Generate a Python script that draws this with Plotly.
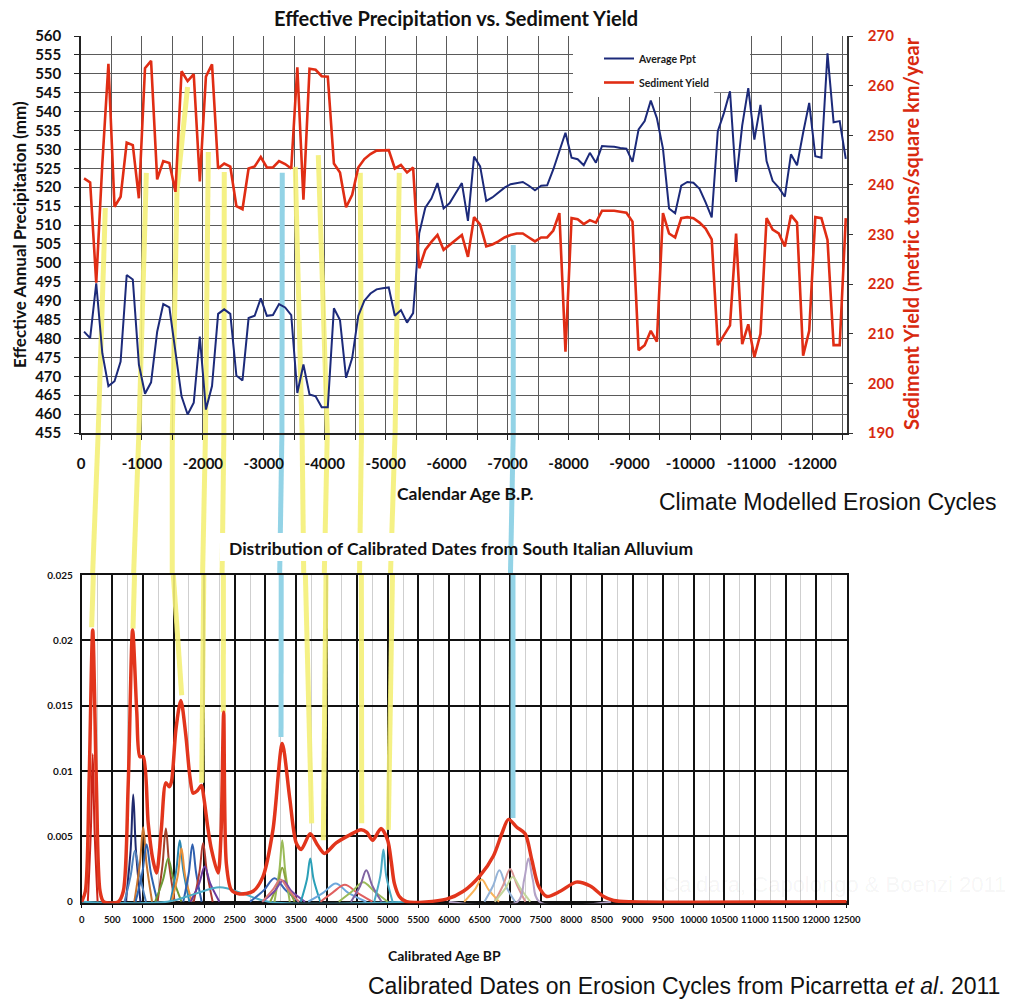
import plotly.graph_objects as go

# ---------------- data: top chart (climate model) ----------------
ages = [-50, -150, -250, -350, -450, -550, -650, -750, -850, -950,
        -1050, -1150, -1250, -1350, -1450, -1550, -1650, -1750, -1850, -1950,
        -2050, -2150, -2250, -2350, -2450, -2550, -2650, -2750, -2850, -2950,
        -3050, -3150, -3250, -3350, -3450, -3550, -3650, -3750, -3850, -3950,
        -4050, -4150, -4250, -4350, -4450, -4550, -4650, -4750, -4850, -4950,
        -5050, -5150, -5250, -5350, -5450, -5550, -5650, -5750, -5850, -5950,
        -6050, -6150, -6250, -6350, -6450, -6550, -6650, -6750, -6850, -6950,
        -7050, -7150, -7250, -7350, -7450, -7550, -7650, -7750, -7850, -7950,
        -8050, -8150, -8250, -8350, -8450, -8550, -8650, -8750, -8850, -8950,
        -9050, -9150, -9250, -9350, -9450, -9550, -9650, -9750, -9850, -9950,
        -10050, -10150, -10250, -10350, -10450, -10550, -10650, -10750, -10850, -10950,
        -11050, -11150, -11250, -11350, -11450, -11550, -11650, -11750, -11850, -11950,
        -12050, -12150, -12250, -12350, -12450, -12550]

avg_ppt = [481.8, 480.1, 494.6, 476.1, 467.4, 468.7, 473.9, 496.8, 495.6, 473.1,
           465.4, 468.4, 481.8, 489.1, 488.2, 476.6, 464.7, 459.9, 463.0, 480.5,
           461.2, 467.4, 486.5, 487.7, 486.5, 470.2, 468.9, 485.4, 486.0, 490.6,
           486.0, 486.2, 489.1, 488.2, 486.2, 465.6, 473.1, 465.2, 464.7, 461.8,
           461.8, 488.0, 484.9, 469.6, 474.8, 486.0, 490.0, 491.9, 493.0, 493.3,
           493.5, 486.0, 487.5, 484.2, 486.7, 507.8, 514.6, 517.0, 521.1, 514.4,
           515.8, 518.5, 521.1, 511.1, 528.1, 525.5, 516.4, 517.3, 518.6, 519.9,
           520.8, 521.2, 521.4, 520.4, 519.2, 520.4, 520.5, 524.7, 529.5, 534.4,
           527.8, 527.4, 525.8, 529.1, 526.5, 530.9, 530.8, 530.7, 530.4, 530.2,
           526.7, 535.3, 537.5, 542.9, 538.3, 530.2, 514.4, 513.1, 520.4, 521.4,
           521.2, 519.6, 516.0, 512.0, 534.8, 539.6, 545.4, 521.4, 536.3, 546.2,
           532.6, 541.8, 526.9, 521.7, 519.9, 517.5, 528.7, 525.8, 534.4, 542.3,
           528.2, 527.8, 555.4, 537.2, 537.5, 527.5]

sediment = [241.3, 240.5, 220.3, 244.3, 264.4, 235.6, 237.6, 248.5, 248.0, 237.3,
            263.5, 265.0, 241.1, 244.8, 244.4, 238.6, 262.9, 260.9, 262.3, 240.7,
            261.8, 264.3, 243.3, 244.3, 243.7, 235.7, 235.1, 243.3, 243.7, 245.6,
            243.5, 243.5, 244.8, 244.2, 243.3, 263.7, 237.0, 263.4, 263.2, 261.9,
            261.8, 244.3, 242.5, 235.5, 238.0, 243.5, 245.2, 246.2, 246.9, 246.9,
            247.0, 243.3, 244.0, 242.5, 243.5, 223.2, 226.9, 228.5, 229.9, 226.9,
            227.9, 228.9, 229.9, 225.5, 233.5, 232.0, 227.6, 228.0, 228.6, 229.4,
            229.9, 230.2, 230.2, 229.4, 228.6, 229.4, 229.4, 230.8, 234.3, 206.4,
            233.3, 233.1, 232.1, 232.9, 232.4, 234.8, 234.8, 234.8, 234.6, 234.4,
            232.6, 206.7, 207.7, 210.6, 208.4, 234.3, 230.2, 229.4, 233.3, 233.5,
            233.3, 232.4, 231.2, 229.0, 207.7, 209.7, 211.7, 230.2, 207.9, 211.9,
            205.3, 210.0, 233.3, 231.0, 230.2, 227.6, 233.9, 232.4, 205.6, 210.6,
            233.5, 233.3, 228.9, 207.7, 207.7, 233.3]

top_tickvals = [0, -500, -1000, -1500, -2000, -2500, -3000, -3500, -4000, -4500,
                -5000, -5500, -6000, -6500, -7000, -7500, -8000, -8500, -9000,
                -9500, -10000, -10500, -11000, -11500, -12000, -12500]
top_ticktext = [str(v) if v % 1000 == 0 else "" for v in top_tickvals]

# ---------------- data: bottom chart (calibrated dates) ----------------
sum_age = [0, 60, 120, 180, 240, 300, 360, 600, 680, 760, 832, 900, 951, 1005,
           1087, 1160, 1223, 1300, 1375, 1430, 1467, 1540, 1620, 1700, 1770,
           1821, 1890, 1957, 1995, 2060, 2120, 2228, 2275, 2320, 2364, 2446,
           2580, 2800, 2960, 3125, 3277, 3397, 3505, 3587, 3734, 3859, 3967,
           4158, 4375, 4565, 4660, 4755, 4891, 5000, 5060, 5109, 5190, 5310,
           5960, 6236, 6510, 6727, 6864, 6973, 7110, 7246, 7355, 7464, 7600,
           7819, 8080, 8310, 8528, 8692, 8965, 12500]
sum_val = [0.0, 0.0008, 0.009, 0.0208, 0.009, 0.0008, 0.0, 0.0, 0.0008, 0.009,
           0.0208, 0.0145, 0.0111, 0.0111, 0.006, 0.0033, 0.0022, 0.0055, 0.0091,
           0.0088, 0.0092, 0.0132, 0.0154, 0.0128, 0.0095, 0.0083, 0.0085, 0.0089,
           0.0080, 0.0057, 0.0040, 0.0022, 0.0050, 0.0145, 0.0029, 0.0009, 0.0006,
           0.0008, 0.0019, 0.0055, 0.0121, 0.0080, 0.0045, 0.0040, 0.0052, 0.0043,
           0.0037, 0.0045, 0.0051, 0.0055, 0.0053, 0.0047, 0.0056, 0.0047, 0.0030,
           0.0014, 0.0004, 0.0, 0.0002, 0.0008, 0.0020, 0.0035, 0.0052, 0.0063,
           0.0057, 0.0052, 0.0032, 0.0012, 0.0004, 0.0008, 0.0015, 0.0012, 0.0004,
           0.0001, 0.0, 0.0]

date_curve_ages = [
    [100, 150, 180, 210, 260],
    [720, 800, 842, 885, 960],
    [700, 800, 870, 950, 1050],
    [860, 950, 1005, 1060, 1150],
    [880, 990, 1060, 1130, 1240],
    [1240, 1320, 1375, 1430, 1520],
    [1200, 1330, 1413, 1500, 1630],
    [1450, 1545, 1603, 1660, 1760],
    [1470, 1570, 1630, 1690, 1800],
    [1660, 1750, 1810, 1870, 1960],
    [1830, 1925, 1984, 2045, 2140],
    [1780, 1920, 2010, 2100, 2250],
    [0, 1400, 1850, 2255, 2650, 3050, 5300],
    [2750, 2980, 3150, 3330, 3550],
    [3150, 3230, 3277, 3325, 3400],
    [3080, 3200, 3277, 3355, 3480],
    [2950, 3150, 3290, 3430, 3650],
    [2950, 3120, 3250, 3380, 3550],
    [3580, 3680, 3734, 3790, 3900],
    [3700, 3950, 4150, 4350, 4650],
    [3900, 4100, 4300, 4500, 4750],
    [4200, 4420, 4600, 4780, 5000],
    [4400, 4550, 4650, 4750, 4900],
    [4780, 4880, 4930, 4975, 5080],
    [6250, 6420, 6536, 6650, 6820],
    [6580, 6720, 6825, 6930, 7080],
    [6750, 6890, 7000, 7110, 7250],
    [6750, 6920, 7044, 7170, 7330],
    [6000, 7120, 7230, 7300, 7370, 7480, 8650],
]
date_curve_vals = [
    [0, 0.0055, 0.0113, 0.0055, 0],
    [0, 0.0040, 0.0082, 0.0040, 0],
    [0, 0.0020, 0.0039, 0.0020, 0],
    [0, 0.0029, 0.0057, 0.0029, 0],
    [0, 0.0022, 0.0044, 0.0022, 0],
    [0, 0.0028, 0.0056, 0.0028, 0],
    [0, 0.0017, 0.0033, 0.0017, 0],
    [0, 0.0024, 0.0047, 0.0024, 0],
    [0, 0.0020, 0.0041, 0.0020, 0],
    [0, 0.0022, 0.0044, 0.0022, 0],
    [0, 0.0023, 0.0045, 0.0023, 0],
    [0, 0.0014, 0.0027, 0.0014, 0],
    [0, 0, 0.0006, 0.0011, 0.0006, 0, 0],
    [0, 0.0009, 0.0018, 0.0009, 0],
    [0, 0.0024, 0.0047, 0.0024, 0],
    [0, 0.0013, 0.0026, 0.0013, 0],
    [0, 0.0008, 0.0016, 0.0008, 0],
    [0, 0.0009, 0.0017, 0.0009, 0],
    [0, 0.0017, 0.0033, 0.0017, 0],
    [0, 0.0007, 0.0014, 0.0007, 0],
    [0, 0.0007, 0.0013, 0.0007, 0],
    [0, 0.0008, 0.0015, 0.0008, 0],
    [0, 0.0012, 0.0024, 0.0012, 0],
    [0, 0.0020, 0.0040, 0.0020, 0],
    [0, 0.0009, 0.0017, 0.0009, 0],
    [0, 0.0012, 0.0024, 0.0012, 0],
    [0, 0.0013, 0.0025, 0.0013, 0],
    [0, 0.0010, 0.0019, 0.0010, 0],
    [0, 0, 0.0017, 0.0033, 0.0017, 0, 0],
]
date_curve_colors = ['#cc2418', '#1f2a6e', '#4f81bd', '#c8742e', '#2e64b0',
                     '#a0402a', '#6d9a35', '#2a86b0', '#e8903a', '#2f5fae',
                     '#b03a30', '#6a3a9c', '#4bacc6', '#3a66b4', '#9bbb59',
                     '#8aa33c', '#7a4aa8', '#d9787a', '#2aa0b8', '#6fa8dc',
                     '#e06060', '#9bbb59', '#8064a2', '#4bacc6', '#f9b45a',
                     '#95b3d7', '#d99694', '#c3d69b', '#b3a2c7']

# connectors: top anchors in (calendar age, mm), bottom anchors in (cal. age BP, density)
connector_kind = ['y', 'y', 'y', 'y', 'y', 'c', 'y', 'y', 'y', 'y', 'c']
connector_top = [
    [(-399, 514.5), (-282, 455)],
    [(-1072, 523.8), (-950, 455)],
    [(-1749, 546.5), (-1575, 519.3), (-1498, 455)],
    [(-2089, 529.3), (-2043, 455)],
    [(-2351, 524.0), (-2345, 455)],
    [(-3303, 523.8), (-3297, 455)],
    [(-3516, 525.4), (-3628, 455)],
    [(-3894, 528.5), (-4042, 455)],
    [(-4583, 523.8), (-4603, 455)],
    [(-5223, 523.8), (-5154, 455)],
    [(-7093, 504.7), (-7093, 455)],
]
connector_bottom = [
    [(190, 0.025), (163, 0.0210)],
    [(863, 0.025), (838, 0.0209)],
    [(1497, 0.025), (1634, 0.0158)],
    [(1995, 0.025), (1961, 0.0091)],
    [(2315, 0.025), (2314, 0.0145)],
    [(3260, 0.025), (3257, 0.0126)],
    [(3655, 0.025), (3758, 0.0060)],
    [(3992, 0.025), (3948, 0.0047)],
    [(4570, 0.025), (4575, 0.0060)],
    [(5078, 0.025), (5010, 0.0055)],
    [(7047, 0.025), (7047, 0.0064)],
]

# ---------------- layout geometry ----------------
W, H = 1010, 1003
def px(x):
    return x / W
def py(y):
    return 1 - y / H

TOP_X = [px(81), px(847)]
TOP_Y = [py(433), py(36)]
BOT_X = [px(81.7), px(846.7)]
BOT_Y = [py(903.3), py(575)]

BOLD = 'Lato'
RED = '#d8290f'
YELLOW = 'rgba(244,239,120,0.9)'
CYAN = '#93d3e6'

fig = go.Figure()

# bottom chart individual curves
for xs, ys, c in zip(date_curve_ages, date_curve_vals, date_curve_colors):
    fig.add_trace(go.Scatter(x=xs, y=ys, mode='lines', xaxis='x2', yaxis='y3',
                             line=dict(color=c, width=2, shape='spline', smoothing=1.0),
                             showlegend=False, hoverinfo='skip'))
fig.add_trace(go.Scatter(x=sum_age, y=sum_val, mode='lines', xaxis='x2', yaxis='y3',
                         line=dict(color='#e2351c', width=3.5, shape='spline', smoothing=0.8),
                         showlegend=False, hoverinfo='skip'))

# top chart
fig.add_trace(go.Scatter(x=ages, y=avg_ppt, mode='lines', name='Average Ppt',
                         xaxis='x', yaxis='y', legendgroup='a',
                         line=dict(color='#1c2a7a', width=2)))
fig.add_trace(go.Scatter(x=ages, y=sediment, mode='lines', name='Sediment Yield',
                         xaxis='x', yaxis='y2', legendgroup='b',
                         line=dict(color='#e02d14', width=2.6)))

shapes = []
# white panel behind the legend (between gridlines and traces)
shapes.append(dict(type='rect', xref='x', yref='y', x0=-8080, x1=-10980, y0=545.1, y1=560,
                   fillcolor='white', line=dict(width=0), layer='between'))

def add_connector(kind, top, bot, with_gap=True):
    col = YELLOW if kind == 'y' else CYAN
    w = 5
    for (a0, v0), (a1, v1) in zip(top[:-1], top[1:]):
        shapes.append(dict(type='line', xref='x', yref='y', x0=a0, y0=v0, x1=a1, y1=v1,
                           line=dict(color=col, width=w), layer='between'))
    if with_gap:
        shapes.append(dict(type='line', xref='x', yref='paper', x0=top[-1][0], y0=TOP_Y[0],
                           x1=-bot[0][0], y1=BOT_Y[1], line=dict(color=col, width=w),
                           layer='below'))
    for (a0, v0), (a1, v1) in zip(bot[:-1], bot[1:]):
        shapes.append(dict(type='line', xref='x2', yref='y3', x0=a0, y0=v0, x1=a1, y1=v1,
                           line=dict(color=col, width=w), layer='between'))

last = len(connector_kind) - 1
for i, (k, t, b) in enumerate(zip(connector_kind, connector_top, connector_bottom)):
    add_connector(k, t, b, with_gap=(i != last))
# white band behind the lower title (masks the connectors there)
shapes.append(dict(type='rect', xref='paper', yref='paper', x0=px(220), x1=px(703),
                   y0=py(561), y1=py(533), fillcolor='white', line=dict(width=0), layer='below'))
# the 7000 BP connector crosses the title band
k, t, b = connector_kind[last], connector_top[last], connector_bottom[last]
shapes.append(dict(type='line', xref='x', yref='paper', x0=t[-1][0], y0=TOP_Y[0],
                   x1=-b[0][0], y1=BOT_Y[1], line=dict(color=CYAN, width=5), layer='below'))

annotations = [
    dict(text='<b>Effective Precipitation vs. Sediment Yield</b>', x=px(456), y=py(18),
         font=dict(family=BOLD, size=20, color='#111')),
    dict(text='<b>Effective Annual Precipitation (mm)</b>', x=px(20), y=py(235), textangle=-90,
         font=dict(family=BOLD, size=17, color='#111')),
    dict(text='<b>Sediment Yield (metric tons/square km/year</b>', x=px(911), y=py(234),
         textangle=-90, font=dict(family=BOLD, size=20, color=RED)),
    dict(text='<b>Calendar Age B.P.</b>', x=px(465), y=py(493),
         font=dict(family=BOLD, size=17.5, color='#111')),
    dict(text='Climate Modelled Erosion Cycles', x=px(998), y=py(502), xanchor='right',
         font=dict(family='Liberation Sans', size=23, color='#111')),
    dict(text='<b>Distribution of Calibrated Dates from South Italian Alluvium</b>',
         x=px(461), y=py(548), font=dict(family=BOLD, size=17.5, color='#111')),
    dict(text='<b>Calibrated Age BP</b>', x=px(444), y=py(955),
         font=dict(family=BOLD, size=14, color='#111')),
    dict(text='Calibrated Dates on Erosion Cycles from Picarretta <i>et al</i>. 2011',
         x=px(1002), y=py(986), xanchor='right',
         font=dict(family='Liberation Sans', size=23, color='#111')),
    dict(text='Caldara, Capolongo &amp; Boenzi 2011', x=px(1008), y=py(884), xanchor='right',
         font=dict(family='Liberation Sans', size=22, color='rgba(0,0,0,0.05)')),
]
for a in annotations:
    a.update(xref='paper', yref='paper', showarrow=False)
    a.setdefault('xanchor', 'center')
    a.setdefault('yanchor', 'middle')

GRID = '#5a5a5a'
fig.update_layout(
    width=W, height=H, margin=dict(l=0, r=0, t=0, b=0, autoexpand=False),
    paper_bgcolor='white', plot_bgcolor='white',
    hovermode=False,
    shapes=shapes, annotations=annotations,
    legend=dict(x=px(573), y=py(44), xanchor='left', yanchor='top',
                bgcolor='white', borderwidth=0,
                font=dict(family='Lato', size=10.5, color='#1a1a1a', weight='bold'),
                tracegroupgap=5, itemwidth=30, indentation=26),
    xaxis=dict(domain=TOP_X, anchor='y', range=[0, -12570], automargin=False,
               tickvals=top_tickvals, ticktext=top_ticktext,
               showgrid=True, gridcolor=GRID, gridwidth=1,
               showline=True, linecolor='#222', linewidth=1.5,
               ticks='outside', ticklen=5, tickcolor='#222', ticklabelstandoff=11,
               tickfont=dict(family=BOLD, size=15, color='#111', weight='bold'),
               zeroline=False),
    yaxis=dict(domain=TOP_Y, anchor='x', range=[455, 560], dtick=5, tick0=455,
               automargin=False,
               showgrid=True, gridcolor=GRID, gridwidth=1,
               showline=True, linecolor='#222', linewidth=1.5,
               ticks='outside', ticklen=5, tickcolor='#222', ticklabelstandoff=10,
               tickfont=dict(family=BOLD, size=15, color='#111', weight='bold'),
               zeroline=False),
    yaxis2=dict(overlaying='y', anchor='x', side='right', range=[190, 270], dtick=10,
                automargin=False,
                showgrid=False, showline=True, linecolor='#333', linewidth=1.5,
                ticks='outside', ticklen=4, tickcolor='#333', ticklabelstandoff=12,
                tickfont=dict(family=BOLD, size=15, color=RED, weight='bold'),
                zeroline=False),
    xaxis2=dict(domain=BOT_X, anchor='y3', range=[0, 12500], dtick=500, tick0=0,
                tickformat='d', tickangle=0, automargin=False, layer='below traces',
                showgrid=True, gridcolor='#111', gridwidth=1.6,
                minor=dict(dtick=250, showgrid=True, gridcolor='#cfcfcf', gridwidth=1),
                showline=True, linecolor='#111', linewidth=1.6, mirror=True,
                ticks='outside', ticklen=3, tickcolor='#111', ticklabelstandoff=3,
                tickfont=dict(family=BOLD, size=9.5, color='#111', weight='bold'),
                zeroline=False),
    yaxis3=dict(domain=BOT_Y, anchor='x2', range=[-0.00012, 0.025], dtick=0.005, tick0=0,
                automargin=False, layer='below traces',
                showgrid=True, gridcolor='#111', gridwidth=1.6,
                showline=True, linecolor='#111', linewidth=1.6, mirror=True,
                ticks='', ticklabelstandoff=5,
                tickfont=dict(family=BOLD, size=10, color='#111', weight='bold'),
                zeroline=False),
)

fig.write_html("out.html")
